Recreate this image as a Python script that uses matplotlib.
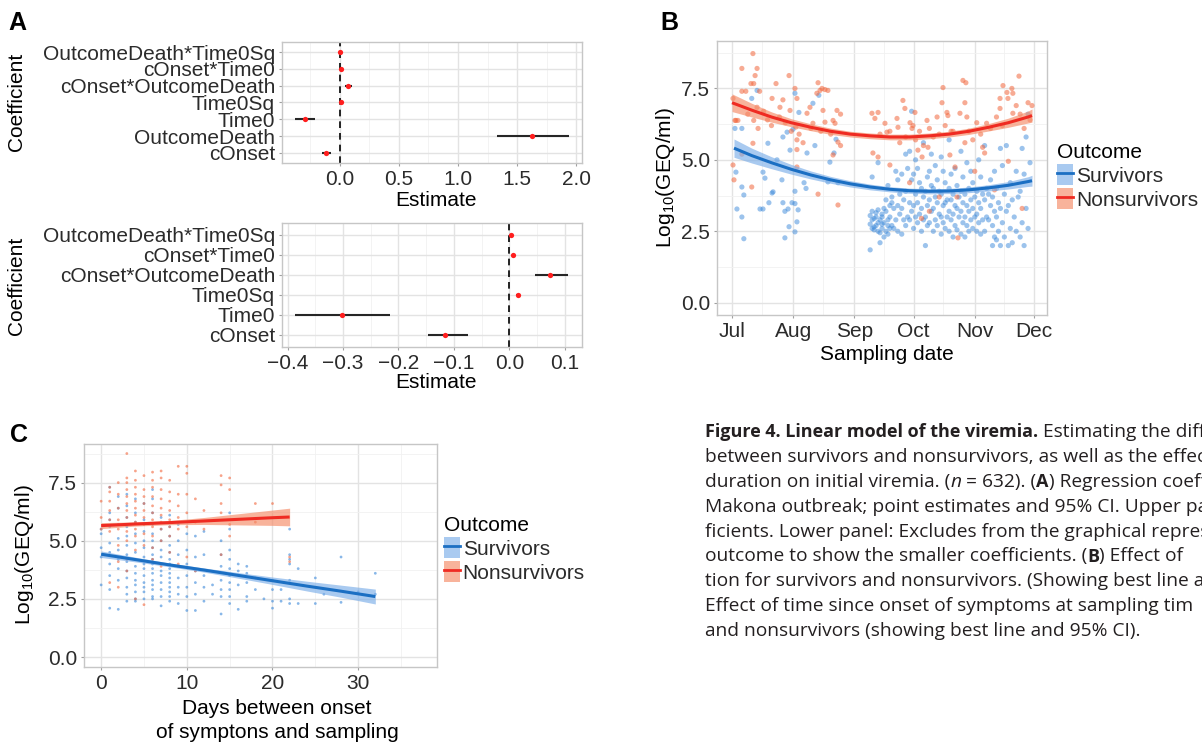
import numpy as np
import matplotlib
matplotlib.use("Agg")
import matplotlib.pyplot as plt
import matplotlib.dates as mdates
from matplotlib.patches import Patch
from matplotlib.lines import Line2D
from matplotlib.ticker import MultipleLocator, FuncFormatter

W, H = 1202, 746
plt.rcParams["font.family"] = ["Liberation Sans", "DejaVu Sans"]
plt.rcParams["mathtext.default"] = "regular"

# ---------------- panel A: regression coefficients ----------------
coef_all = ["cOnset", "OutcomeDeath", "Time0", "Time0Sq",
            "cOnset*OutcomeDeath", "cOnset*Time0", "OutcomeDeath*Time0Sq"]
est_all = [-0.115, 1.626, -0.295, 0.014, 0.074, 0.007, 0.003]
lo_all = [-0.150, 1.327, -0.380, 0.009, 0.045, 0.004, 0.000]
hi_all = [-0.074, 1.935, -0.210, 0.019, 0.104, 0.010, 0.006]

coef_small = ["cOnset", "Time0", "Time0Sq",
              "cOnset*OutcomeDeath", "cOnset*Time0", "OutcomeDeath*Time0Sq"]
est_small = [-0.116, -0.302, 0.015, 0.074, 0.007, 0.0035]
lo_small = [-0.147, -0.386, 0.012, 0.046, 0.005, 0.002]
hi_small = [-0.075, -0.215, 0.018, 0.105, 0.009, 0.005]

# ---------------- panel B: viremia vs sampling date ----------------
# days after 1 Jul 2014, values grouped per day
b_surv_days = [1.5, 2, 2.5, 5, 6, 10, 12.7, 14.2, 15.7, 16.7, 18.2, 18.7, 20.3, 20.8,
               22.8, 25.3, 25.8, 26.8, 27.9, 28.4, 28.9, 29.4, 30.4, 30.9, 31.9, 32.9,
               33.5, 33.9, 36.5, 37.5, 38, 41, 42, 44, 48.6, 49.6, 51.7, 52.7, 53.7,
               70, 71, 72, 73, 74, 75, 76, 77, 78, 79, 80, 81, 82, 83, 84, 85, 86, 87,
               88, 89, 90, 91, 92, 93, 94, 95, 96, 97, 98, 99, 100, 101, 102, 103, 104,
               105, 106, 107, 108, 109, 110, 111, 112, 113, 114, 115, 116, 117, 118,
               119, 120, 121, 122, 123, 124, 125, 126, 127, 128, 129, 130, 131, 132,
               133, 134, 135, 136, 137, 138, 139, 140, 141, 142, 143, 144, 145, 146,
               147, 148, 149, 150, 151]
b_surv_vals = [[6.1], [4.57], [3.28], [6.1, 4.05, 3.0], [3.77, 2.24], [7.15], [7.43],
               [3.28], [4.57, 3.28], [4.36], [5.58], [3.5], [3.84], [3.88], [5.0], [4.3],
               [3.5, 5.8], [3.2, 2.27], [5.97], [3.28], [2.66], [5.34], [3.5], [6.07],
               [3.47, 2.48, 3.9, 7.33], [2.83], [3.25], [6.66], [4.2], [4.0], [5.24],
               [6.98], [5.5], [7.26], [4.23], [4.92], [5.24], [5.72], [4.2],
               [1.85, 2.75, 3.05], [2.6, 2.9, 3.2, 4.4], [2.55, 2.95, 2.65],
               [2.7, 3.15, 3.0], [2.5, 2.8, 3.25, 4.9], [2.45, 2.9, 2.1],
               [2.75, 3.1, 2.6, 3.0], [2.8, 3.3, 2.3], [2.5, 3.2, 3.6],
               [2.7, 2.4, 2.9, 4.1], [2.6, 3.4, 3.0], [2.7, 3.5, 3.7], [2.6, 3.3],
               [2.9, 4.6], [2.5, 3.4, 4.3], [3.1, 3.8], [2.4, 3.3, 4.5], [2.9, 3.6],
               [2.7, 3.9, 5.2], [3.0, 4.7], [2.9, 3.5, 5.3], [3.2, 4.3, 6.7],
               [2.6, 3.4, 4.5], [3.0, 3.8, 5.0], [2.8, 3.5, 4.7], [3.1, 4.2],
               [2.5, 3.3, 4.0], [2.9, 3.7, 5.6], [2.0, 3.0, 3.9], [2.7, 3.4, 4.4],
               [2.8, 3.6, 4.6], [3.2, 4.1, 5.2], [2.5, 3.3, 4.0], [2.9, 3.7, 4.8],
               [2.7, 3.5, 4.3], [3.1, 3.9], [2.4, 3.0, 3.8, 5.1], [2.8, 3.4, 4.6],
               [2.6, 3.5, 4.2], [3.0, 3.6], [2.5, 3.2, 4.0, 5.7], [2.9, 3.6, 4.5],
               [2.3, 3.1, 3.8], [2.7, 3.4, 4.7], [2.55, 3.3, 4.1], [3.0, 3.7],
               [2.4, 3.2, 3.9, 5.3], [2.8, 3.5, 4.4], [2.3, 3.0, 3.8], [2.7, 3.4, 4.9],
               [2.5, 3.2, 4.0], [2.9, 3.6, 4.6], [2.6, 3.3, 4.2], [3.0, 3.7],
               [2.5, 3.1, 3.9], [2.8, 3.5, 5.0], [2.4, 3.3, 4.4], [2.9, 3.8],
               [2.5, 3.6, 5.5], [3.0, 4.0], [2.9, 3.8], [3.4, 4.3], [2.0, 2.7, 3.7],
               [2.3, 3.2, 4.6], [2.2, 3.0, 4.0], [2.5, 3.5], [2.0, 3.3, 5.4], [2.8, 4.8],
               [2.3, 3.8], [3.2, 5.5], [2.0, 3.4], [2.6, 4.2], [2.1, 3.6], [3.0],
               [2.5, 4.6], [3.7], [2.3, 3.9], [2.8, 5.4], [2.0, 4.5], [3.3, 5.8],
               [2.6, 6.6], [4.9]]

b_dead_days = [0.5, 1, 1.5, 2, 3, 5, 7, 8, 9.6, 10, 10.6, 11, 11.7, 12.7, 13.2, 14, 16,
               18, 20, 20.3, 22.3, 24, 24.3, 25.8, 27, 28.9, 29.4, 30, 31.9, 32.4, 32.9,
               34, 36, 38, 39.5, 40, 41, 43, 43.6, 44.6, 45, 45.6, 46.1, 47.1, 48.6, 50,
               51.2, 52.2, 53.2, 53.7, 55,
               70.9, 71.4, 72.4, 74, 75, 77.5, 78.5, 80, 83.6, 84.1, 85, 86.6, 87.6, 88,
               90, 90.2, 91.2, 91.7, 92.7, 93, 94.2, 95, 96, 96.3, 97, 98.8, 99.3, 100,
               102, 103.9, 105, 106.4, 106.9, 108, 108.9, 109.4, 110.4, 111, 112, 113,
               114, 114.5, 115.5, 117, 118, 118.5, 119, 120, 122, 123, 124, 126, 127,
               128, 129, 131, 133, 134, 135.8, 137, 137.3, 139.3, 139.8, 140, 141.8,
               142.3, 144, 145.4, 146, 147, 148, 150, 151, 152]
b_dead_vals = [[7.15, 4.82], [4.3], [6.38], [6.38], [6.38], [8.2, 7.4, 5.2], [7.4], [6.6],
               [7.67], [4.05], [8.72, 5.58], [7.67, 6.38], [7.95], [8.2, 6.84], [6.1],
               [7.4], [6.7], [6.4], [6.2], [7.15], [7.67], [6.5], [6.84], [7.1], [6.3],
               [7.95], [6.73], [6.0], [7.5], [6.15], [7.15, 5.7, 5.36, 4.75], [5.9], [5.6],
               [6.63], [6.84], [6.1], [6.28], [7.33], [7.7, 3.8], [7.43], [6.0], [7.5],
               [6.73], [7.46, 6.32], [7.43], [5.9], [6.38, 5.17], [6.28], [6.73],
               [5.62, 3.42], [5.5, 6.6],
               [6.63], [5.24], [6.45], [6.66, 5.1], [5.9], [6.28], [5.97], [4.82, 6.0],
               [6.45], [6.14], [5.6], [7.08], [6.8], [5.8], [4.2], [6.3], [6.1], [6.2],
               [6.66], [5.7], [5.34], [6.0], [2.95], [5.1], [5.5], [6.38], [5.44],
               [6.1, 3.2], [5.8], [6.5], [5.9, 3.7], [7.0], [7.53], [6.2], [6.66], [6.55],
               [5.17], [6.0], [6.0], [4.75], [3.7], [2.27], [6.63], [7.78], [7.0, 5.6],
               [7.7], [6.5], [6.0], [5.7], [4.6], [6.3], [5.9], [5.44], [5.24], [6.28],
               [6.1], [3.95], [6.5], [7.15, 6.8], [6.2], [7.6], [7.36], [7.15], [4.95],
               [7.5], [7.33, 6.63], [6.9], [7.93], [6.6], [3.3], [6.1], [7.0], [6.4], [6.9]]

# quadratic fits (value and 95% CI half-width)
b_fit_dead_days = [0, 10, 20, 30, 40, 50, 60, 70, 80, 90, 100, 110, 120, 130, 140, 150, 152]
b_fit_dead = [7.00, 6.74, 6.50, 6.30, 6.14, 6.00, 5.90, 5.84, 5.80, 5.80, 5.84, 5.90,
              6.00, 6.14, 6.30, 6.50, 6.55]
b_ci_dead = [0.31, 0.24, 0.18, 0.14, 0.12, 0.11, 0.10, 0.10, 0.10, 0.10, 0.10, 0.10,
             0.11, 0.13, 0.16, 0.21, 0.23]
b_fit_surv_days = [1, 10, 20, 30, 40, 50, 60, 70, 80, 90, 100, 110, 120, 130, 140, 150, 152]
b_fit_surv = [5.41, 5.15, 4.90, 4.67, 4.47, 4.30, 4.16, 4.05, 3.97, 3.92, 3.90, 3.91,
              3.95, 4.02, 4.11, 4.24, 4.27]
b_ci_surv = [0.32, 0.26, 0.21, 0.17, 0.14, 0.12, 0.11, 0.10, 0.09, 0.09, 0.09, 0.09,
             0.10, 0.11, 0.13, 0.17, 0.19]

# ---------------- panel C: viremia vs days since onset ----------------
c_surv_days = [0, 1, 2, 3, 4, 5, 6, 7, 8, 9, 10, 11, 12, 13, 14, 15, 16, 17, 18, 19,
               20, 21, 22, 23, 25, 26, 28, 30, 32]
c_surv_vals = [[3.1, 4.3, 4.7, 5.3, 5.5],
               [2.1, 2.9, 3.5, 4.0, 4.5, 4.9, 5.6, 5.9, 6.2, 7.3],
               [2.05, 3.3, 3.8, 4.2, 4.6, 5.1, 5.7, 6.4, 6.9],
               [2.4, 2.7, 3.0, 3.4, 3.7, 4.1, 4.4, 4.8, 5.2, 5.6, 6.0, 6.5, 7.0],
               [2.4, 2.5, 2.8, 3.1, 3.3, 3.6, 3.9, 4.2, 4.5, 4.9, 5.3, 5.8, 6.2, 6.8],
               [2.5, 2.8, 3.0, 3.2, 3.5, 3.8, 4.0, 4.3, 4.7, 5.0, 5.4, 5.9, 6.6],
               [2.5, 2.6, 2.9, 3.1, 3.3, 3.6, 3.8, 4.0, 4.2, 4.4, 4.7, 5.0, 5.3, 5.7,
                6.2, 6.8, 7.2],
               [2.2, 2.6, 2.9, 3.2, 3.5, 3.7, 4.0, 4.3, 4.6, 5.0, 5.5, 6.0],
               [2.4, 2.6, 2.8, 3.0, 3.2, 3.4, 3.6, 3.8, 4.0, 4.2, 4.5, 4.8, 5.2, 5.6, 6.1],
               [2.3, 2.7, 3.0, 3.4, 3.9, 4.4, 5.0, 5.7],
               [2.0, 2.6, 3.0, 3.5, 4.0, 4.6, 5.3],
               [2.0, 2.7, 3.2, 3.7, 4.3, 5.2],
               [2.4, 3.0, 3.5, 4.4, 5.4],
               [2.7, 3.1],
               [1.85, 2.6, 2.9, 3.3, 3.9, 4.4, 5.0],
               [2.3, 2.6, 2.9, 3.2, 3.5, 3.8, 4.2, 4.6, 5.5, 6.2],
               [2.05, 3.1, 3.7, 4.0],
               [2.4, 2.6, 3.2, 3.6, 3.9],
               [2.9, 3.4], [2.5], [2.1, 2.4, 2.9, 3.3], [2.4, 2.9],
               [2.3, 2.5, 3.3, 4.0, 4.2, 4.4, 5.5], [2.3, 3.8], [2.3, 3.4], [2.7],
               [2.35, 4.3], [2.8], [2.7, 3.6]]
c_dead_days = [0, 1, 2, 3, 4, 5, 6, 7, 8, 9, 10, 11, 12, 14, 15, 18, 20, 22]
c_dead_vals = [[5.5, 6.0, 6.7],
               [3.2, 5.4, 5.9, 6.3, 6.7, 7.1, 7.3],
               [3.0, 4.1, 4.8, 5.5, 5.9, 6.4, 7.0, 7.5],
               [3.7, 4.2, 5.0, 5.4, 5.7, 6.0, 6.3, 6.6, 6.9, 7.2, 7.5, 7.7, 8.75],
               [2.5, 4.6, 5.2, 5.5, 5.8, 6.1, 6.4, 6.7, 7.0, 7.3, 7.6, 8.0],
               [2.25, 4.8, 5.3, 5.7, 6.0, 6.3, 6.6, 6.9, 7.2, 7.8],
               [4.2, 4.7, 5.2, 5.6, 5.9, 6.2, 6.5, 6.9, 7.3, 7.6, 7.95],
               [3.9, 5.0, 5.5, 5.8, 6.1, 6.4, 6.8, 7.2, 7.7, 8.0],
               [4.5, 5.2, 5.6, 5.9, 6.3, 6.7, 7.1, 7.6],
               [4.0, 5.5, 6.0, 6.5, 7.0, 8.2],
               [4.3, 5.6, 6.2, 7.0, 7.9, 8.2],
               [3.7, 5.8, 6.8], [5.5, 6.3], [4.4, 6.2, 6.6, 7.4, 7.8],
               [5.2, 5.7, 7.2, 7.7], [5.8, 6.6], [6.6], [4.1, 4.3]]

c_fit_surv_days = [0, 4, 8, 12, 16, 20, 24, 28, 32]
c_fit_surv = [4.42, 4.19, 3.96, 3.74, 3.51, 3.28, 3.05, 2.83, 2.60]
c_ci_surv = [0.14, 0.10, 0.08, 0.09, 0.12, 0.16, 0.21, 0.26, 0.32]
c_fit_dead_days = [0, 4, 8, 12, 16, 20, 22]
c_fit_dead = [5.65, 5.72, 5.78, 5.85, 5.92, 5.99, 6.02]
c_ci_dead = [0.13, 0.09, 0.09, 0.15, 0.24, 0.33, 0.38]

outcome_labels = ["Survivors", "Nonsurvivors"]

caption_lines = [
    [("Figure 4. Linear model of the viremia.", "bold"), (" Estimating the diff", None)],
    [("between survivors and nonsurvivors, as well as the effect", None)],
    [("duration on initial viremia. (", None), ("n", "italic"), (" = 632). (", None),
     ("A", "bold"), (") Regression coeffi", None)],
    [("Makona outbreak; point estimates and 95% CI. Upper pan", None)],
    [("ficients. Lower panel: Excludes from the graphical repres", None)],
    [("outcome to show the smaller coefficients. (", None), ("B", "bold"),
     (") Effect of", None)],
    [("tion for survivors and nonsurvivors. (Showing best line an", None)],
    [("Effect of time since onset of symptoms at sampling tim", None)],
    [("and nonsurvivors (showing best line and 95% CI).", None)],
]

# ---------------- styling ----------------
TXT = "#2B2B2B"
BORDER = "#C6C6C6"
GRID_MAJ = "#E3E3E3"
GRID_MIN = "#F1F1F1"
BLUE_PT, RED_PT = "#3A88DA", "#F2663C"
BLUE_LN, RED_LN = "#1B6FC3", "#EF2B22"
BLUE_RB, RED_RB = "#7BAEE8", "#F58A66"
FS = 15


def box(l, t, r, b):
    return [l / W, 1 - b / H, (r - l) / W, (b - t) / H]


def num_fmt(v, pos=None):
    if abs(v) < 1e-9:
        v = 0.0
    return f"{v:.1f}".replace("-", "\u2212")


def style(ax):
    ax.set_facecolor("white")
    for s in ax.spines.values():
        s.set_color(BORDER)
        s.set_linewidth(1.0)
    ax.grid(True, which="major", color=GRID_MAJ, lw=1.0)
    ax.grid(True, which="minor", color=GRID_MIN, lw=0.6)
    ax.set_axisbelow(True)
    ax.tick_params(which="major", length=2.5, width=0.8, color="#A0A0A0",
                   labelsize=FS, labelcolor=TXT, pad=2.5)
    ax.tick_params(which="minor", length=0)


def flat(days, vals):
    xs = [d for d, vs in zip(days, vals) for _ in vs]
    ys = [v for vs in vals for v in vs]
    return np.array(xs, dtype=float), np.array(ys)


def coef_panel(ax, names, est, lo, hi, xlim, major, minor):
    y = np.arange(1, len(names) + 1)
    style(ax)
    ax.axvline(0, color="black", lw=1.2, ls=(0, (4, 3)), zorder=2)
    ax.hlines(y, lo, hi, color="#262626", lw=1.5, zorder=3)
    ax.plot(est, y, "o", color="#FF1E1E", ms=3.8, mec="none", zorder=4)
    ax.set_yticks(y)
    ax.set_yticklabels(names)
    ax.set_ylim(0.4, len(names) + 0.6)
    ax.set_xlim(*xlim)
    ax.xaxis.set_major_locator(MultipleLocator(major))
    ax.xaxis.set_minor_locator(MultipleLocator(minor))
    ax.xaxis.set_major_formatter(FuncFormatter(num_fmt))
    ax.grid(False, axis="y", which="minor")


def viremia_axes(ax):
    style(ax)
    ax.set_ylim(-0.43, 9.16)
    ax.yaxis.set_major_locator(MultipleLocator(2.5))
    ax.yaxis.set_minor_locator(MultipleLocator(1.25))
    ax.yaxis.set_major_formatter(FuncFormatter(num_fmt))


def outcome_legend(ax, x, y):
    handles = [(Patch(facecolor=BLUE_RB, alpha=0.65, edgecolor="none"),
                Line2D([], [], color=BLUE_LN, lw=2)),
               (Patch(facecolor=RED_RB, alpha=0.65, edgecolor="none"),
                Line2D([], [], color=RED_LN, lw=2))]
    leg = fig.legend(handles, outcome_labels, title="Outcome", loc="upper left",
                     bbox_to_anchor=(x / W, 1 - y / H), frameon=False, fontsize=FS,
                     title_fontsize=FS, handlelength=0.75, handleheight=1.2,
                     handletextpad=0.15, labelspacing=0.1, borderpad=0,
                     borderaxespad=0, alignment="left")
    for t in leg.get_texts():
        t.set_color(TXT)


fig = plt.figure(figsize=(W / 100, H / 100), dpi=100)

# ---- A top
axA1 = fig.add_axes(box(282, 42, 582, 163))
coef_panel(axA1, coef_all, est_all, lo_all, hi_all, (-0.488, 2.049), 0.5, 0.25)
# ---- A bottom
axA2 = fig.add_axes(box(282, 223, 582, 347))
coef_panel(axA2, coef_small, est_small, lo_small, hi_small, (-0.41, 0.131), 0.1, 0.05)

for yc in (102, 286):
    fig.text(17 / W, 1 - yc / H, "Coefficient", rotation=90, ha="center", va="center",
             fontsize=FS, color="black")
fig.text(436 / W, 1 - 200 / H, "Estimate", ha="center", va="center", fontsize=FS)
fig.text(436 / W, 1 - 383 / H, "Estimate", ha="center", va="center", fontsize=FS)

# ---- B
axB = fig.add_axes(box(717, 41, 1047, 315))
viremia_axes(axB)
base = mdates.datestr2num("2014-07-01")
xs, ys = flat(b_surv_days, b_surv_vals)
axB.scatter(base + xs, ys, s=14, color=BLUE_PT, alpha=0.5, edgecolors="none", zorder=2)
xs, ys = flat(b_dead_days, b_dead_vals)
axB.scatter(base + xs, ys, s=14, color=RED_PT, alpha=0.55, edgecolors="none", zorder=2)
for d, f, c, rb, ln in ((b_fit_surv_days, b_fit_surv, b_ci_surv, BLUE_RB, BLUE_LN),
                        (b_fit_dead_days, b_fit_dead, b_ci_dead, RED_RB, RED_LN)):
    d = base + np.array(d)
    f = np.array(f)
    c = np.array(c)
    axB.fill_between(d, f - c, f + c, color=rb, alpha=0.65, lw=0, zorder=3)
    axB.plot(d, f, color=ln, lw=2.2, zorder=4, solid_capstyle="butt")
axB.set_xlim(base - 7.6, base + 153 + 6.6)
axB.xaxis.set_major_locator(mdates.MonthLocator())
axB.xaxis.set_major_formatter(mdates.DateFormatter("%b"))
axB.xaxis.set_minor_locator(mdates.MonthLocator(bymonthday=16))
fig.text(666 / W, 1 - 178 / H, "Log$_{10}$(GEQ/ml)", rotation=90, ha="center",
         va="center", fontsize=FS)
fig.text(887 / W, 1 - 355 / H, "Sampling date", ha="center", va="center", fontsize=FS)
outcome_legend(axB, 1057, 143)

# ---- C
axC = fig.add_axes(box(84, 444, 437, 667))
viremia_axes(axC)
xs, ys = flat(c_surv_days, c_surv_vals)
axC.scatter(xs, ys, s=4, color=BLUE_PT, alpha=0.6, edgecolors="none", zorder=2)
xs, ys = flat(c_dead_days, c_dead_vals)
axC.scatter(xs, ys, s=4, color=RED_PT, alpha=0.6, edgecolors="none", zorder=2)
for d, f, c, rb, ln in ((c_fit_surv_days, c_fit_surv, c_ci_surv, BLUE_RB, BLUE_LN),
                        (c_fit_dead_days, c_fit_dead, c_ci_dead, RED_RB, RED_LN)):
    f = np.array(f)
    c = np.array(c)
    axC.fill_between(d, f - c, f + c, color=rb, alpha=0.65, lw=0, zorder=3)
    axC.plot(d, f, color=ln, lw=2.2, zorder=4, solid_capstyle="butt")
axC.set_xlim(-2.0, 39.2)
axC.xaxis.set_major_locator(MultipleLocator(10))
axC.xaxis.set_minor_locator(MultipleLocator(5))
fig.text(25 / W, 1 - 555 / H, "Log$_{10}$(GEQ/ml)", rotation=90, ha="center",
         va="center", fontsize=FS)
fig.text(277 / W, 1 - 708 / H, "Days between onset", ha="center", va="center", fontsize=FS)
fig.text(277 / W, 1 - 733 / H, "of symptons and sampling", ha="center", va="center",
         fontsize=FS)
outcome_legend(axC, 444, 516)

# ---- panel letters
for lbl, x, y in (("A", 8, 11), ("B", 660, 11), ("C", 10, 423)):
    fig.text(x / W, 1 - y / H, lbl, fontsize=18, fontweight="bold", va="top", ha="left")

# ---- caption (cut at the right edge, as in the source page)
bg = fig.add_axes([0, 0, 1, 1], zorder=-1)
bg.axis("off")
cap_kw = dict(family=["Open Sans", "DejaVu Sans"], fontsize=13.8, color="#231F20")
for i, parts in enumerate(caption_lines):
    y = 441 + i * 24.9
    prev = None
    for s, st in parts:
        kw = dict(cap_kw)
        if st == "bold":
            kw["fontweight"] = "bold"
            kw["fontsize"] = 13.0
        elif st == "italic":
            kw["fontstyle"] = "italic"
        if prev is None:
            prev = bg.text(705 / W, 1 - y / H, s, transform=fig.transFigure,
                           ha="left", va="bottom", **kw)
        else:
            prev = bg.annotate(s, xy=(1, 0), xycoords=prev, ha="left", va="bottom",
                               annotation_clip=False, **kw)

fig.savefig("out.png", dpi=100)
